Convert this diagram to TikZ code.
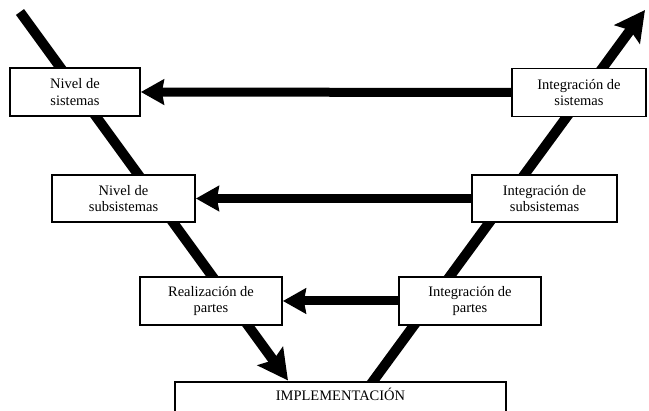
\documentclass[tikz,border=0pt]{standalone}
\usepackage{fontspec}
\setmainfont{Liberation Serif}
\usetikzlibrary{arrows.meta}
\begin{document}
\begin{tikzpicture}[x=1pt,y=-1pt,
  box/.style={draw=black, line width=1.8pt, fill=white, rectangle, inner sep=0pt,
    align=center, font=\fontsize{14.5}{16.5}\selectfont},
  vline/.style={line width=10pt, line cap=butt},
  hline/.style={line width=9pt, line cap=butt, -{Stealth[length=23pt, width=25pt, inset=2pt]}},
  dtip/.style={-{Stealth[length=30pt, width=31pt, inset=5pt]}}
]
\useasboundingbox (0,0) rectangle (649,411);
\clip (0,0) rectangle (649,411);
% diagonal lines (behind boxes)
\coordinate (ltop) at (20,12);
\coordinate (ltip) at (288,380.5);
\coordinate (rbot) at (371,384);
\coordinate (rtip) at (645,10);
\draw[vline, dtip] (ltop) -- (ltip);
\draw[vline, dtip] (rbot) -- (rtip);
% boxes
\node[box, minimum width=130pt, minimum height=48pt] (ns) at (75,92) {Nivel de\\sistemas};
\node[box, minimum width=134pt, minimum height=48pt] (is) at (579,92.5) {Integración de\\sistemas};
\node[box, minimum width=143pt, minimum height=47pt] (nss) at (123.5,198.5) {Nivel de\\subsistemas};
\node[box, minimum width=145pt, minimum height=47pt] (iss) at (544.5,198.5) {Integración de\\subsistemas};
\node[box, minimum width=142pt, minimum height=48pt] (rp) at (211,301) {Realización de\\partes};
\node[box, minimum width=142pt, minimum height=48pt] (ip) at (470,301) {Integración de\\partes};
\node[box, anchor=north, minimum width=331pt, inner ysep=6pt, text height=13pt, text depth=20pt] (impl) at (340.5,381) {IMPLEMENTACIÓN};
% horizontal arrows
\draw[hline] (is.west) -- (ns.east);
\draw[hline] (iss.west) -- (nss.east);
\draw[hline] (ip.west) -- (rp.east);
\end{tikzpicture}
\end{document}
